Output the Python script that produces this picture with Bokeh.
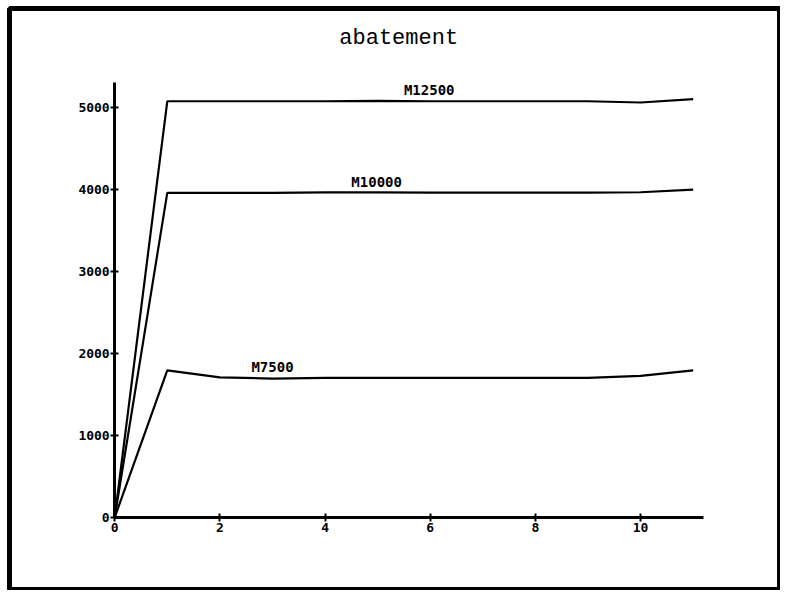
from bokeh.plotting import figure
from bokeh.models import Range1d, FixedTicker, Label, ColumnDataSource
from bokeh.core.properties import value
from bokeh.embed import file_html
from bokeh.resources import INLINE

# ---- data ----
years = [0, 1, 2, 3, 4, 5, 6, 7, 8, 9, 10, 11]
m12500 = [0, 5070, 5070, 5070, 5070, 5075, 5070, 5070, 5070, 5070, 5055, 5095]
m10000 = [0, 3955, 3955, 3955, 3960, 3960, 3958, 3958, 3958, 3958, 3962, 3995]
m7500 = [0, 1793, 1707, 1692, 1700, 1700, 1700, 1700, 1700, 1702, 1725, 1793]
series_names = ["M12500", "M10000", "M7500"]
label_x = [5.5, 4.5, 2.6]
label_y = [5070, 3958, 1700]
x_ticks = [0, 2, 4, 6, 8, 10]
y_ticks = [0, 1000, 2000, 3000, 4000, 5000]
title_text = "abatement"

W, H = 780, 590
p = figure(width=W, height=H, output_backend="svg", toolbar_location=None,
           x_range=Range1d(-2.0, 12.66), y_range=Range1d(-889, 6200),
           min_border=0, min_border_left=9, min_border_right=0,
           min_border_top=8, min_border_bottom=0)
p.grid.visible = False
p.outline_line_color = "black"
p.outline_line_width = 5
p.background_fill_color = "white"
p.border_fill_color = "white"

for ax in (p.xaxis[0], p.yaxis[0]):
    ax.fixed_location = 0
    ax.axis_line_width = 3
    ax.axis_line_color = "black"
    ax.major_tick_line_width = 2
    ax.major_tick_in = 4
    ax.major_tick_out = 4
    ax.minor_tick_line_color = None
    ax.major_label_text_font = "DejaVu Sans Mono"
    ax.major_label_text_font_style = "bold"
    ax.major_label_text_font_size = "13px"
    ax.major_label_text_color = "black"

p.xaxis[0].ticker = FixedTicker(ticks=x_ticks)
p.yaxis[0].ticker = FixedTicker(ticks=y_ticks)
p.xaxis[0].bounds = (0, 11.2)
p.yaxis[0].bounds = (0, 5300)
p.xaxis[0].major_label_standoff = 1
p.yaxis[0].major_label_standoff = 1

for ys in (m12500, m10000, m7500):
    p.line(years, ys, line_color="black", line_width=2.2)

src = ColumnDataSource(dict(x=label_x, y=label_y, t=series_names))
p.text(x="x", y="y", text="t", source=src, text_font=value("DejaVu Sans Mono"),
       text_font_style="bold", text_font_size="14px", text_color="black",
       text_align="left", text_baseline="bottom", y_offset=-3)

p.add_layout(Label(x=5.4, y=5840, text=title_text, text_font="Liberation Mono",
                   text_font_size="22px", text_align="center",
                   text_baseline="middle", text_color="black"))

open("out.html", "w").write(file_html(p, INLINE))
